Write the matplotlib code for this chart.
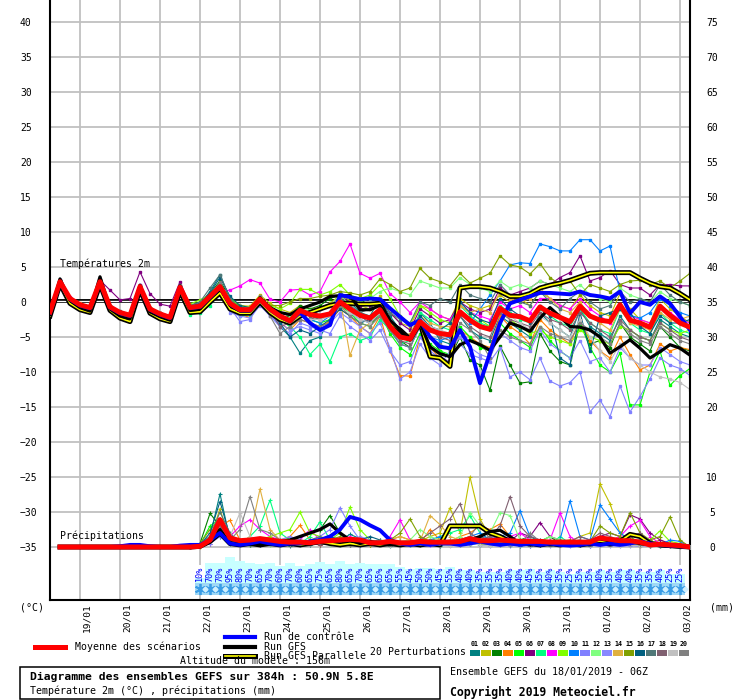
import numpy as np
import matplotlib
matplotlib.use("Agg")
import matplotlib.pyplot as plt
from matplotlib.transforms import ScaledTranslation
from matplotlib.patches import Rectangle

plt.rcParams['font.family'] = ['DejaVu Sans Mono', 'DejaVu Sans']

# ---------------- DATA ----------------
HOURS = np.arange(0, 385, 6)          # 18/01/2019 06Z + 0..384h
DAY_HOURS = [18, 42, 66, 90, 114, 138, 162, 186, 210, 234, 258, 282, 306, 330, 354, 378]
DAY_LABELS = ['19/01', '20/01', '21/01', '22/01', '23/01', '24/01', '25/01', '26/01',
              '27/01', '28/01', '29/01', '30/01', '31/01', '01/02', '02/02', '03/02']
LEFT_TICKS = [-35, -30, -25, -20, -15, -10, -5, 0, 5, 10, 15, 20, 25, 30, 35, 40]
RIGHT_TICKS = [0, 5, 10, 20, 25, 30, 35, 40, 45, 50, 55, 60, 65, 70, 75]

PERT_COLORS = ['#008080', '#c0c000', '#008000', '#ff8000', '#00ff00', '#800080', '#00ff80',
               '#ff00ff', '#80ff00', '#0080ff', '#8080ff', '#80ff80', '#8888ff', '#e0b040',
               '#80a000', '#006080', '#507878', '#806070', '#c0c0c0', '#808080']
PERT_NAMES = ['01', '02', '03', '04', '05', '06', '07', '08', '09', '10',
              '11', '12', '13', '14', '15', '16', '17', '18', '19', '20']

# temperature 2m (deg C), 65 steps
TEMP_MEAN = [-1.4, 2.9, 0.5, -0.4, -0.8, 2.9, -0.7, -1.5, -1.9, 2.2, -1.0, -1.7, -2.2, 2.1, -0.8,
             -0.6, 0.8, 2.2, -0.2, -1.1, -1.1, 0.4, -1.0, -2.0, -2.7,
             -1.2, -1.8, -2.0, -1.7, 0.0, -1.0, -1.9, -2.3, -1.1, -3.5,
             -5.0, -5.3, -2.8, -4.0, -4.5, -4.7, -1.4, -2.6, -3.5, -3.9,
             -0.9, -1.9, -2.1, -2.7, -0.7, -1.6, -2.2, -2.8, -0.6, -2.0,
             -2.6, -2.8, -0.4, -2.6, -3.0, -3.6, -0.6, -1.9, -3.0, -3.6]
TEMP_CTRL = [-1.5, 2.8, 0.4, -0.5, -0.9, 2.8, -0.8, -1.6, -2.0, 2.1, -1.1, -1.8, -2.3, 2.0, -0.9,
             -0.7, 0.7, 2.1, -0.3, -1.2, -1.2, 0.3, -1.1, -2.1, -2.8,
             -1.5, -3.0, -4.0, -3.3, 1.0, 0.7, 0.4, 0.5, 0.4, -0.9,
             -2.1, -3.3, -2.6, -5.0, -6.4, -6.6, -4.0, -6.4, -11.6, -7.3,
             -3.0, -0.2, 0.3, 0.8, 1.3, 1.3, 1.2, 1.1, 1.5, 1.0,
             0.8, 0.5, 1.5, -1.6, 0.0, -0.4, 0.8, -0.2, -2.1, -4.0]
TEMP_GFS = [-1.8, 3.3, 0.2, -0.8, -1.3, 3.6, -1.0, -2.0, -2.4, 2.4, -1.4, -2.1, -2.6, 2.3, -1.2,
            -1.0, 0.5, 2.0, -0.5, -1.3, -1.3, 0.6, -0.8, -1.5, -1.8,
            -1.0, -0.5, 0.0, 0.8, 0.9, 0.9, -1.1, -1.1, -0.5, -2.6,
            -4.0, -5.4, -3.0, -6.4, -7.4, -7.8, -6.1, -5.5, -6.1, -6.9,
            -5.0, -3.0, -3.5, -4.2, -2.3, -0.8, -2.1, -3.5, -3.6, -4.0,
            -5.0, -7.3, -6.4, -5.4, -6.6, -8.0, -7.1, -6.1, -6.6, -7.6]
TEMP_GFSP = [-2.0, 2.6, -0.2, -1.1, -1.5, 2.5, -1.2, -2.3, -2.8, 1.8, -1.6, -2.4, -2.8, 1.6, -1.5,
             -1.4, 0.0, 1.3, -1.0, -1.6, -1.6, 0.0, -1.5, -2.5, -3.0,
             -2.0, -1.5, -1.0, -0.5, -0.2, -0.2, -0.3, -0.3, -0.2, -3.0,
             -4.0, -5.3, -3.0, -7.8, -8.0, -9.2, 2.0, 2.2, 2.2, 2.0,
             1.5, 0.8, 0.8, 1.2, 2.0, 2.4, 2.7, 3.1, 3.6, 4.1,
             4.2, 4.2, 4.2, 4.2, 3.4, 2.7, 2.2, 2.0, 1.2, 0.3]

T01 = [-1.5, 3.2, 0.6, -0.3, -0.7, 3.0, -0.6, -1.3, -1.7, 2.4, -0.8, -1.5, -2.0, 2.2, -0.6,
       -0.3, 1.5, 3.9, 0.5, -0.8, -1.0, 0.6, -1.5, -3.5, -5.0,
       -7.3, -5.5, -5.0, -2.5, 1.5, 0.0, -1.5, -2.0, 0.5, -2.0,
       -4.0, -5.0, -1.5, -3.0, -5.5, -6.0, -2.0, -4.0, -5.0, -5.5,
       -2.0, -3.0, -4.0, -5.0, -1.5, -3.0, -4.0, -5.0, -1.0, -3.5,
       -4.5, -5.5, -2.0, -4.0, -5.0, -5.5, -2.5, -3.5, -4.5, -5.0]
T02 = [-1.2, 3.0, 0.4, -0.6, -1.0, 2.7, -0.9, -1.6, -2.0, 2.0, -1.1, -1.8, -2.3, 2.0, -1.0,
       -0.8, 0.5, 2.8, 0.2, -0.5, -0.6, 1.0, -0.2, -1.0, -1.5,
       -0.5, -1.0, -0.8, -0.2, 1.0, 0.2, -0.5, -1.0, 0.8, -1.5,
       -3.0, -3.5, -0.5, -1.0, -2.0, -2.5, 0.5, -0.5, -1.0, -0.5,
       1.0, 0.0, 0.5, -0.5, 1.5, 0.5, -0.5, -1.0, 1.0, -0.5,
       -1.5, -2.0, 1.2, -1.0, -2.5, -3.0, 0.5, -1.0, -2.0, -3.0]
T03 = [-1.6, 2.7, 0.3, -0.5, -0.9, 2.8, -0.8, -1.7, -2.1, 2.1, -1.2, -1.9, -2.4, 1.9, -0.5,
       0.0, 1.2, 3.0, 0.6, -0.6, -1.3, 0.2, -1.4, -2.4, -2.0,
       -0.5, -1.0, -0.5, 0.5, 1.0, 0.7, -0.3, 0.8, 0.0, -2.8,
       -5.5, -6.5, -3.0, -5.0, -7.0, -8.0, -5.0, -8.3, -9.0, -12.6,
       -6.3, -9.0, -11.6, -11.4, -4.5, -7.0, -8.5, -9.0, -3.0, -6.0,
       -5.5, -6.5, -3.0, -5.0, -6.0, -7.0, -3.5, -5.0, -6.5, -7.0]
T04 = [-1.3, 2.8, 0.5, -0.2, -0.6, 2.9, -0.5, -1.4, -1.8, 2.3, -0.9, -1.6, -2.1, 2.2, -0.7,
       -0.5, 0.7, 2.5, -0.5, -1.8, -2.2, 0.0, -1.5, -3.0, -4.0,
       -2.5, -3.0, -3.5, -2.8, -1.0, -2.0, -3.5, -4.5, -2.0, -7.0,
       -10.5, -10.6, -5.0, -6.5, -8.0, -8.5, -4.0, -5.0, -6.0, -6.5,
       -2.0, -3.5, -4.5, -6.0, -2.5, -4.0, -5.0, -6.0, -2.5, -5.5,
       -7.0, -8.0, -5.0, -7.5, -9.7, -9.0, -6.0, -7.0, -6.5, -6.8]
T05 = [-1.4, 3.0, 0.6, -0.4, -0.7, 3.1, -0.6, -1.6, -2.0, 2.2, -1.0, -1.7, -2.3, 2.0, -0.7,
       -0.7, 0.5, 2.0, -0.5, -1.5, -1.3, 0.3, -1.2, -2.5, -3.5,
       -2.0, -2.5, -3.0, -2.5, -0.5, -1.5, -3.0, -3.5, -1.5, -4.5,
       -6.5, -7.5, -4.5, -6.0, -7.0, -7.5, -3.5, -5.0, -6.5, -7.0,
       -3.0, -4.5, -5.5, -6.5, -3.5, -5.5, -7.0, -8.0, -3.0, -6.5,
       -9.0, -10.0, -7.3, -14.7, -14.7, -10.0, -7.0, -11.9, -10.5, -9.5]
T06 = [-1.6, 2.6, 0.3, -0.6, -0.9, 3.1, 1.7, 0.3, 0.5, 4.3, 1.2, -0.3, -0.6, 2.9, -0.5,
       -0.3, 0.9, 2.0, 0.0, -1.0, -1.2, 0.5, -0.8, -1.5, -2.0,
       -1.0, -1.5, -1.0, -0.5, 0.8, 0.0, -0.5, -0.5, 0.2, -1.5,
       -3.0, -4.0, -1.0, -2.0, -3.0, -2.5, 0.0, -1.0, -1.5, -1.0,
       2.0, 1.0, 1.5, 2.0, 3.0, 2.5, 3.5, 4.2, 6.6, 3.0,
       3.5, 4.5, 2.5, 2.0, 2.0, 1.0, 2.5, 2.5, 2.3, 2.3]
T07 = [-1.5, 2.8, 0.4, -0.5, -0.8, 2.7, -0.8, -1.6, -2.1, 2.0, -1.2, -2.0, -2.6, 1.6, -1.8,
       -1.5, -0.5, 1.3, -1.0, -2.0, -1.8, 0.0, -1.5, -2.5, -3.5,
       -5.0, -7.5, -6.0, -8.5, -5.0, -4.5, -5.5, -5.0, -2.5, -4.0,
       -6.0, -5.5, -1.5, -2.5, -3.5, -4.0, -0.5, -2.0, -3.0, -3.5,
       -0.5, -1.5, -2.5, -3.0, -1.0, -2.0, -3.0, -3.5, -1.0, -3.0,
       -4.0, -4.5, -1.0, -3.0, -4.0, -4.5, -1.5, -3.0, -4.0, -4.5]
T08 = [-1.3, 3.1, 0.7, -0.3, -0.6, 3.0, -0.5, -1.4, -1.8, 2.4, -0.9, -1.6, -2.1, 2.3, -0.5,
       -0.2, 1.0, 1.5, 1.7, 2.3, 3.2, 2.7, 0.4, 0.0, 1.7,
       1.8, 1.0, 1.5, 4.3, 5.8, 8.3, 4.1, 3.4, 4.1, 1.2,
       0.0, -1.5, 0.0, -1.0, -2.0, -2.5, -0.5, -1.5, -2.0, -2.5,
       0.0, -1.0, -0.5, -1.5, 0.5, 0.5, -0.5, -1.0, 0.5, -1.0,
       -2.0, -3.0, -0.5, -2.0, -2.5, -3.0, -0.5, -1.5, -2.5, -3.0]
T09 = [-1.4, 2.9, 0.5, -0.4, -0.8, 2.9, -0.7, -1.5, -1.9, 2.2, -1.0, -1.7, -2.2, 2.0, -0.3,
       0.3, 1.0, 2.5, 0.5, -0.5, -0.8, 0.5, -0.5, -1.0, -0.2,
       1.8, 1.8, 1.0, 1.5, 2.5, 1.0, 0.5, 1.0, 2.5, 0.5,
       -2.0, -3.0, -0.5, -1.5, -2.5, -3.0, -0.5, -1.5, -2.5, -3.5,
       -1.0, -2.5, -3.5, -4.5, -4.0, -5.0, -5.5, -6.0, -4.0, -5.0,
       -5.5, -6.0, -3.5, -4.0, -5.0, -5.5, -3.0, -4.0, -4.5, -4.0]
T10 = [-1.5, 2.8, 0.4, -0.5, -0.9, 2.8, -0.8, -1.6, -2.0, 2.1, -1.1, -1.8, -2.3, 2.0, -0.9,
       -0.6, 0.8, 2.4, 0.0, -0.8, -1.0, 0.3, -1.2, -2.3, -3.0,
       -2.0, -2.5, -3.0, -2.0, 0.5, -1.5, -2.5, -3.0, -1.5, -4.0,
       -6.0, -6.5, -3.5, -5.0, -5.5, -5.0, -1.5, -3.0, -1.0, 1.0,
       3.0, 5.3, 5.6, 5.5, 8.3, 7.9, 7.3, 7.3, 8.9, 8.9,
       7.3, 8.0, 1.5, -1.9, -2.3, -1.5, 0.5, -0.5, -1.5, -2.0]
T11 = [-1.3, 2.7, 0.3, -0.6, -1.0, 2.6, -1.0, -1.8, -2.2, 1.9, -1.3, -2.0, -2.5, 1.8, -1.1,
       -1.0, 0.2, 1.8, -0.8, -2.8, -2.5, 0.0, -2.0, -3.5, -4.5,
       -3.0, -3.5, -4.0, -4.5, -2.0, -3.5, -4.5, -5.5, -4.0, -7.0,
       -9.0, -8.5, -5.0, -7.0, -8.0, -8.5, -6.0, -7.5, -8.0, -8.5,
       -6.5, -10.7, -10.0, -11.1, -8.0, -11.3, -12.0, -11.5, -10.0, -15.7,
       -14.0, -16.4, -12.0, -15.7, -13.5, -11.0, -8.0, -9.0, -9.5, -10.5]
T12 = [-1.4, 3.0, 0.6, -0.3, -0.7, 3.0, -0.6, -1.4, -1.8, 2.3, -0.9, -1.6, -2.1, 2.1, -0.8,
       -0.4, 0.7, 2.3, -0.1, -1.0, -0.9, 0.6, -0.6, -1.5, -2.0,
       -1.0, -1.2, -1.0, -0.5, 1.0, -0.5, 0.0, 0.5, 1.5, 2.0,
       1.5, 1.0, 3.0, 2.5, 2.0, 2.0, 3.5, 2.5, 2.0, 1.5,
       3.0, 2.0, 2.5, 2.0, 3.0, 2.5, 2.0, 1.5, 2.5, 1.0,
       0.5, 0.0, 2.0, 1.0, 0.5, 0.0, 1.5, 0.5, 0.0, -0.5]
T13 = [-1.5, 2.9, 0.5, -0.4, -0.8, 2.9, -0.7, -1.6, -2.0, 2.1, -1.1, -1.8, -2.3, 2.0, -1.2,
       -1.0, 0.3, 1.5, -1.5, -2.0, -2.3, -0.5, -2.0, -3.0, -4.0,
       -3.5, -4.0, -4.5, -3.0, -1.5, -2.5, -3.5, -4.5, -3.0, -6.5,
       -11.0, -10.0, -6.0, -8.0, -9.0, -7.0, -5.0, -6.5, -7.5, -8.0,
       -4.5, -5.5, -6.5, -7.0, -4.0, -6.0, -7.0, -8.0, -5.5, -8.5,
       -8.0, -10.0, -6.5, -8.0, -9.0, -9.0, -6.5, -7.5, -8.5, -9.0]
T14 = [-1.4, 2.9, 0.5, -0.4, -0.8, 2.9, -0.7, -1.5, -1.9, 2.2, -1.0, -1.7, -2.2, 2.1, -0.8,
       -0.6, 0.7, 2.2, -0.5, -1.5, -1.5, 0.0, -1.0, -2.0, -2.5,
       -1.5, -2.0, -2.5, -2.0, 0.5, -7.6, -4.0, -3.0, -1.0, -3.5,
       -5.0, -4.5, -2.0, -3.0, -3.5, -3.5, -0.5, -1.5, -1.0, -1.5,
       1.5, 0.5, 0.0, 0.5, 2.0, 0.5, -1.0, -1.5, 0.0, -2.0,
       -3.0, -4.0, -1.0, -3.0, -3.5, -4.0, -1.5, -2.5, -2.5, -2.0]
T15 = [-1.3, 3.0, 0.5, -0.4, -0.7, 2.9, -0.6, -1.5, -1.8, 2.2, -0.9, -1.6, -2.1, 2.1, -0.7,
       -0.5, 0.7, 2.2, -0.2, -1.0, -1.0, 0.3, -0.5, -0.5, 0.0,
       0.5, 0.5, 0.8, 1.0, 1.5, 1.3, 1.0, 1.5, 3.3, 2.5,
       1.5, 2.0, 4.8, 3.4, 2.9, 2.3, 4.1, 2.7, 3.4, 4.1,
       6.6, 5.3, 5.0, 4.0, 5.5, 3.5, 2.5, 3.0, 1.0, 2.5,
       2.0, 1.5, 2.5, 3.0, 3.1, 2.5, 3.0, 2.0, 3.0, 4.1]
T16 = [-1.3, 2.8, 0.4, -0.5, -0.9, 2.8, -0.8, -1.6, -2.0, 2.0, -1.1, -1.8, -2.3, 2.2, -0.6,
       -0.2, 1.3, 3.5, 0.8, -0.5, -0.8, 0.5, -1.5, -3.0, -5.0,
       -4.0, -4.5, -3.5, -2.5, -1.0, -2.0, -3.0, -2.5, -1.0, -3.0,
       -4.5, -5.0, -2.0, -3.5, -4.0, -3.0, 0.0, -1.5, -2.5, -3.0,
       0.5, -1.0, -2.0, -3.0, -0.5, -2.0, -8.0, -9.0, -1.5, -7.0,
       -2.0, -1.5, -1.0, -1.5, -3.5, -4.5, -2.0, -3.0, -3.0, -2.5]
T17 = [-1.5, 3.1, 0.6, -0.3, -0.7, 3.1, -0.6, -1.4, -1.8, 2.3, -0.9, -1.6, -2.1, 2.3, -0.5,
       0.0, 2.0, 3.9, 0.5, -1.0, -1.2, 0.5, -1.0, -2.0, -2.5,
       -1.5, -2.0, -2.5, -1.5, 0.5, -0.5, -1.5, -1.0, 0.5, -1.5,
       -2.5, -3.0, 0.0, -0.5, 0.5, 0.0, 2.5, 1.0, 0.5, 0.0,
       2.5, 1.0, 0.0, -0.5, 1.5, 0.0, -1.0, 0.5, 1.5, 0.0,
       -1.0, -0.5, 1.5, 0.0, 0.5, 0.0, 2.5, 1.0, 0.0, -0.5]
T18 = [-1.4, 3.0, 0.4, -0.5, -0.8, 3.0, -0.8, -1.5, -2.0, 2.1, -1.0, -1.8, -2.2, 2.2, -0.8,
       -0.5, 0.8, 2.5, 0.0, -1.0, -0.8, 0.5, -1.2, -3.5, -3.0,
       -2.0, -2.5, -2.0, -1.5, 0.5, -1.0, -2.0, -3.0, -2.0, -4.0,
       -5.5, -6.0, -3.0, -4.0, -5.0, -5.5, -2.0, -3.5, -4.5, -5.0,
       -1.5, -2.5, -3.0, -3.5, -1.5, -2.5, -3.0, -4.0, -1.5, -3.0,
       -4.0, -5.0, -2.5, -4.0, -5.0, -5.5, -3.0, -4.0, -5.0, -5.5]
T19 = [-1.4, 2.9, 0.5, -0.4, -0.9, 2.8, -0.7, -1.5, -2.0, 2.2, -1.0, -1.7, -2.3, 2.0, -0.8,
       -0.5, 0.8, 2.0, -0.3, -1.2, -1.2, 0.3, -1.2, -2.5, -3.0,
       -2.0, -2.5, -2.5, -2.0, 0.0, -1.5, -2.5, -3.0, -1.5, -3.5,
       -5.0, -5.5, -2.5, -3.5, -4.0, -4.5, -1.5, -2.5, -3.5, -4.0,
       -1.0, -2.0, -3.0, -4.0, -2.0, -3.0, -4.0, -5.0, -2.5, -5.0,
       -7.0, -8.5, -6.0, -8.0, -9.0, -10.0, -10.7, -11.0, -11.5, -12.5]
T20 = [-1.5, 3.0, 0.4, -0.5, -0.9, 3.0, -0.8, -1.6, -2.0, 2.3, -1.1, -1.8, -2.3, 2.5, -0.7,
       -0.5, 1.0, 2.8, -0.3, -1.5, -1.5, 0.8, -2.0, -4.5, -3.5,
       -2.5, -3.0, -3.5, -3.0, -0.5, -2.0, -3.0, -3.5, -2.0, -4.0,
       -6.0, -6.5, -3.5, -5.0, -6.0, -7.0, -3.0, -4.0, -5.5, -8.0,
       -4.0, -5.0, -5.5, -6.0, -3.5, -4.5, -5.0, -5.5, -3.0, -4.0,
       -5.0, -6.0, -3.0, -4.5, -5.5, -6.0, -3.5, -4.5, -5.5, -6.0]

# 6h precipitation (mm); mean / control / GFS runs from +6h, members from +84h
PREC_MEAN = [0.0, 0.0, 0.0, 0.0, 0.0, 0.0, 0.0, 0.0, 0.0, 0.0, 0.0, 0.0, 0.0, 0.0,
             0.1, 1.0, 3.9, 1.3, 0.9, 1.0, 1.2, 1.0, 0.8, 0.7,
             0.7, 0.6, 0.8, 0.9, 1.0, 1.1, 1.0, 0.6, 0.6, 0.8,
             0.6, 0.6, 0.8, 0.7, 0.7, 0.7, 0.8, 1.2, 0.9, 0.9,
             1.0, 0.9, 0.8, 0.8, 0.8, 0.7, 0.7, 0.7, 0.7, 0.7,
             1.3, 1.1, 0.9, 0.9, 0.7, 0.3, 0.4, 0.3, 0.2, 0.0]
PREC_CTRL = [0.0, 0.0, 0.0, 0.0, 0.0, 0.0, 0.1, 0.3, 0.3, 0.1, 0.0, 0.0, 0.2, 0.3,
             0.3, 1.0, 2.0, 0.5, 0.3, 0.5, 0.8, 0.5, 0.3, 0.5,
             0.5, 0.8, 1.0, 1.5, 2.5, 4.3, 3.9, 3.1, 2.4, 1.0,
             0.5, 0.3, 0.5, 0.3, 0.5, 0.5, 0.3, 0.5, 0.8, 0.5,
             0.3, 0.5, 0.3, 0.5, 0.3, 0.5, 0.3, 0.2, 0.3, 0.5,
             0.3, 0.5, 0.3, 0.5, 0.8, 0.5, 0.3, 0.2, 0.1, 0.0]
PREC_GFS = [0.0, 0.0, 0.0, 0.0, 0.0, 0.0, 0.0, 0.0, 0.0, 0.0, 0.0, 0.0, 0.0, 0.0,
            0.1, 1.0, 2.5, 0.5, 0.3, 0.5, 0.3, 0.5, 0.8, 1.0,
            1.5, 2.0, 2.5, 3.3, 2.0, 1.0, 0.5, 0.8, 0.5, 0.3,
            0.5, 0.3, 0.5, 0.8, 0.5, 0.5, 0.8, 1.0, 1.5, 2.2,
            2.4, 1.5, 0.5, 0.3, 0.5, 0.3, 0.5, 0.3, 0.5, 0.3,
            0.5, 0.3, 0.5, 0.8, 0.5, 0.3, 0.2, 0.1, 0.0, 0.0]
PREC_GFSP = [0.0, 0.0, 0.0, 0.0, 0.0, 0.0, 0.0, 0.0, 0.0, 0.0, 0.0, 0.0, 0.0, 0.0,
             0.1, 0.8, 2.0, 0.5, 0.3, 0.5, 0.3, 0.5, 0.3, 0.5,
             0.3, 0.5, 0.8, 0.5, 0.3, 0.5, 0.3, 0.5, 0.3, 0.5,
             0.3, 0.5, 0.3, 0.5, 0.3, 3.0, 3.0, 3.0, 3.0, 2.0,
             1.5, 0.8, 0.5, 0.5, 0.3, 0.5, 0.3, 0.5, 0.3, 0.5,
             0.8, 0.5, 0.8, 1.8, 1.5, 0.5, 0.3, 0.2, 0.1, 0.0]

R01 = [0.0,
       0.3, 1.5, 7.6, 1.0, 0.5, 0.8, 1.0, 0.5, 0.3, 0.2,
       0.5, 0.3, 0.8, 1.5, 1.0, 1.8, 1.2, 0.5, 0.3, 0.2,
       0.5, 0.3, 0.5, 0.4, 0.2, 0.5, 1.2, 0.5, 0.3, 0.5,
       0.8, 0.3, 0.2, 0.2, 0.8, 0.5, 0.3, 0.5, 0.3, 0.2,
       0.5, 1.0, 0.5, 0.3, 0.2, 0.3, 0.2, 0.1, 0.0, 0.0]
R02 = [0.0,
       0.0, 1.0, 5.5, 0.5, 0.3, 0.5, 0.8, 0.3, 0.5, 1.5,
       0.8, 0.5, 0.3, 0.5, 0.8, 1.0, 0.5, 0.3, 0.5, 1.0,
       0.5, 1.0, 0.8, 1.5, 2.0, 5.6, 2.0, 10.0, 4.0, 1.5,
       1.0, 0.5, 0.8, 0.5, 0.3, 0.5, 1.0, 0.8, 1.5, 2.0,
       9.0, 6.2, 2.0, 1.0, 0.5, 0.5, 1.0, 0.5, 0.3, 0.0]
R03 = [0.0,
       0.5, 4.8, 3.0, 1.5, 0.5, 0.3, 0.5, 0.8, 0.5, 1.0,
       1.5, 2.0, 2.5, 4.5, 2.0, 1.0, 0.5, 0.3, 0.5, 0.3,
       0.5, 0.3, 0.5, 1.0, 0.5, 0.3, 0.5, 0.5, 1.0, 1.5,
       0.5, 0.3, 1.0, 1.5, 0.8, 1.5, 0.5, 0.3, 0.5, 1.0,
       0.8, 0.5, 0.3, 0.5, 0.3, 0.2, 0.3, 0.2, 0.0, 0.0]
R04 = [0.0,
       0.2, 1.0, 3.0, 3.8, 1.0, 0.5, 0.3, 0.5, 1.0, 1.5,
       3.1, 1.0, 0.5, 0.8, 0.5, 0.3, 0.5, 0.3, 0.5, 1.0,
       1.5, 1.0, 0.5, 2.5, 1.0, 0.8, 1.5, 2.0, 3.0, 2.5,
       3.3, 1.5, 0.5, 0.3, 0.5, 0.3, 0.5, 0.8, 0.5, 0.3,
       0.5, 1.0, 1.5, 0.8, 0.5, 0.3, 0.5, 0.2, 0.1, 0.0]
R05 = [0.0,
       0.3, 3.0, 4.0, 1.0, 0.5, 0.3, 0.5, 0.8, 1.0, 0.5,
       0.3, 0.5, 1.0, 0.5, 0.3, 0.5, 1.5, 0.5, 0.3, 0.5,
       0.3, 0.5, 1.0, 0.5, 0.3, 0.5, 1.0, 1.5, 0.5, 0.3,
       0.5, 0.3, 0.5, 1.0, 0.5, 0.3, 0.5, 0.3, 0.5, 0.8,
       1.0, 0.5, 0.3, 1.5, 0.5, 0.3, 0.5, 0.3, 0.5, 0.0]
R06 = [0.0,
       0.2, 0.5, 2.0, 1.0, 0.5, 0.5, 0.3, 0.5, 0.3, 0.5,
       0.3, 0.5, 0.3, 0.5, 1.0, 0.5, 0.3, 0.5, 0.3, 0.5,
       0.3, 0.5, 0.3, 0.5, 0.3, 0.5, 0.3, 0.5, 0.8, 1.5,
       1.0, 0.8, 2.0, 1.5, 3.5, 1.5, 1.0, 0.5, 0.8, 1.0,
       1.5, 2.0, 1.5, 4.6, 4.0, 2.0, 1.0, 0.5, 0.3, 0.0]
R07 = [0.0,
       0.3, 1.5, 2.5, 1.0, 0.5, 1.5, 3.0, 6.7, 2.0, 1.0,
       0.5, 1.5, 3.6, 1.0, 0.5, 0.3, 0.5, 0.8, 0.5, 0.3,
       0.5, 0.3, 0.5, 0.8, 1.5, 2.0, 2.5, 4.5, 2.0, 1.0,
       0.5, 0.8, 0.5, 1.0, 0.5, 0.3, 1.5, 0.5, 0.3, 0.5,
       0.5, 0.3, 0.5, 0.3, 0.5, 0.3, 0.2, 0.3, 0.1, 0.0]
R08 = [0.0,
       0.2, 1.0, 2.5, 1.5, 3.0, 3.9, 2.5, 1.5, 1.0, 0.8,
       1.0, 2.5, 1.0, 0.5, 0.8, 1.5, 1.0, 0.5, 0.3, 1.5,
       3.9, 1.0, 0.5, 0.3, 0.5, 0.3, 0.5, 0.8, 1.5, 1.0,
       0.5, 1.5, 2.0, 1.0, 0.5, 1.0, 4.9, 1.5, 0.5, 0.3,
       0.5, 0.8, 1.5, 3.0, 3.8, 1.5, 0.5, 0.3, 0.2, 0.0]
R09 = [0.0,
       0.3, 1.5, 3.5, 1.0, 0.5, 0.8, 1.0, 1.5, 2.0, 2.5,
       5.0, 2.0, 1.5, 1.0, 2.0, 5.7, 2.5, 1.0, 0.5, 0.3,
       0.5, 0.3, 0.5, 0.5, 0.3, 0.5, 0.8, 1.0, 0.5, 0.3,
       0.5, 0.3, 0.5, 0.8, 0.5, 0.3, 0.5, 0.3, 0.5, 0.3,
       0.5, 0.3, 0.5, 0.8, 1.0, 1.0, 2.3, 0.8, 0.5, 0.0]
R10 = [0.0,
       0.2, 0.8, 1.5, 0.5, 0.3, 0.5, 0.3, 0.5, 0.3, 0.5,
       0.3, 0.5, 0.8, 0.5, 0.3, 0.5, 0.3, 0.5, 0.3, 0.5,
       0.3, 0.5, 0.8, 1.0, 1.5, 0.5, 1.0, 1.5, 2.0, 1.0,
       1.5, 2.0, 5.2, 1.5, 1.0, 0.8, 1.0, 6.6, 1.5, 1.0,
       6.0, 4.0, 2.0, 1.0, 0.5, 0.5, 0.3, 1.0, 0.8, 0.0]
R11 = [0.0,
       0.2, 0.5, 1.5, 1.0, 0.5, 0.3, 0.5, 0.8, 1.0, 1.5,
       1.0, 0.8, 1.5, 2.5, 5.6, 3.0, 1.0, 0.5, 0.3, 0.5,
       0.3, 0.5, 0.3, 0.5, 0.3, 0.5, 0.3, 0.5, 0.3, 0.2,
       0.3, 0.2, 0.3, 0.2, 0.3, 0.2, 0.3, 0.2, 0.3, 0.2,
       0.3, 0.2, 0.1, 0.2, 0.1, 0.1, 0.2, 0.1, 0.1, 0.0]
R12 = [0.0,
       0.3, 1.0, 2.0, 0.8, 0.5, 0.3, 0.5, 0.3, 0.5, 0.8,
       0.5, 1.0, 0.5, 0.3, 0.5, 0.8, 1.0, 0.5, 0.3, 0.5,
       0.8, 1.0, 2.5, 1.5, 1.0, 0.8, 1.5, 4.9, 3.0, 2.0,
       4.9, 4.5, 1.0, 0.5, 0.8, 1.5, 1.0, 0.5, 0.8, 0.5,
       1.0, 0.5, 0.8, 0.5, 0.3, 0.5, 0.3, 0.2, 0.1, 0.0]
R13 = [0.0,
       0.2, 0.8, 2.0, 1.0, 0.3, 0.5, 0.8, 0.5, 0.3, 0.5,
       1.0, 0.5, 0.8, 1.5, 1.0, 0.5, 1.5, 1.0, 0.5, 0.3,
       0.5, 0.3, 0.5, 0.3, 0.5, 0.3, 0.5, 0.8, 0.5, 1.5,
       1.0, 0.5, 0.3, 0.5, 0.8, 0.5, 0.3, 0.5, 0.3, 0.2,
       0.3, 0.5, 0.8, 0.5, 0.3, 0.2, 0.3, 0.5, 0.2, 0.0]
R14 = [0.0,
       0.3, 1.0, 2.5, 1.0, 0.5, 1.5, 8.3, 2.5, 1.0, 0.8,
       0.5, 1.0, 0.5, 0.8, 0.5, 0.3, 0.5, 0.8, 0.5, 1.0,
       1.5, 1.0, 0.8, 4.5, 3.2, 1.5, 1.0, 0.5, 0.8, 1.0,
       0.5, 0.8, 0.5, 0.3, 0.5, 0.3, 0.5, 0.8, 0.5, 0.3,
       0.5, 0.3, 0.5, 0.3, 0.2, 0.3, 0.2, 0.1, 0.0, 0.0]
R15 = [0.0,
       0.5, 2.5, 4.0, 1.5, 0.5, 0.3, 0.5, 1.0, 0.5, 0.3,
       0.5, 0.8, 0.5, 1.0, 1.5, 1.0, 0.5, 0.3, 0.5, 1.0,
       2.0, 4.0, 1.5, 0.8, 0.5, 0.3, 0.5, 0.8, 0.5, 0.3,
       0.5, 0.8, 1.0, 0.5, 0.3, 0.5, 0.8, 1.0, 0.5, 0.8,
       3.0, 2.0, 1.5, 4.9, 2.0, 1.0, 1.5, 4.3, 1.0, 0.0]
R16 = [0.0,
       0.3, 2.0, 6.5, 1.5, 0.5, 0.5, 1.0, 0.5, 0.3, 0.5,
       0.8, 0.5, 1.0, 1.5, 1.0, 0.5, 1.0, 1.5, 1.0, 0.5,
       0.3, 0.5, 0.3, 0.5, 0.8, 0.5, 0.3, 0.5, 0.8, 0.5,
       0.3, 0.5, 0.3, 0.5, 0.3, 0.5, 0.8, 0.5, 0.3, 0.5,
       1.5, 1.0, 0.5, 0.8, 0.5, 0.3, 0.2, 0.3, 0.1, 0.0]
R17 = [0.0,
       0.5, 1.5, 5.0, 2.0, 0.5, 0.3, 0.5, 0.8, 0.5, 0.3,
       0.5, 1.0, 1.5, 0.8, 0.5, 0.3, 0.5, 0.8, 1.0, 0.5,
       0.3, 0.5, 0.8, 0.5, 0.3, 0.5, 0.8, 1.0, 1.5, 1.0,
       0.5, 0.3, 0.5, 0.8, 0.5, 0.3, 0.5, 0.8, 1.0, 0.5,
       0.3, 0.5, 1.0, 0.5, 0.3, 0.2, 0.3, 0.2, 0.1, 0.0]
R18 = [0.0,
       0.3, 1.0, 3.0, 1.0, 0.5, 0.8, 0.5, 1.0, 0.5, 0.3,
       0.5, 0.8, 0.5, 1.0, 0.5, 0.3, 0.5, 0.8, 0.5, 0.3,
       0.5, 0.8, 1.0, 2.0, 3.0, 4.0, 6.2, 2.0, 1.0, 1.5,
       3.0, 7.2, 3.0, 1.5, 1.0, 0.8, 0.5, 0.8, 1.5, 1.0,
       2.0, 1.5, 1.0, 1.5, 2.0, 0.8, 0.5, 0.3, 0.2, 0.0]
R19 = [0.0,
       0.2, 0.8, 2.0, 1.5, 4.9, 1.5, 0.8, 0.5, 0.3, 0.5,
       0.3, 0.5, 0.8, 0.5, 0.3, 0.5, 0.8, 0.5, 0.3, 0.2,
       0.3, 0.5, 0.3, 0.5, 0.3, 0.2, 0.3, 0.5, 0.3, 0.2,
       0.3, 0.5, 0.3, 1.0, 0.5, 0.3, 0.2, 0.3, 0.5, 0.3,
       0.2, 0.3, 0.2, 0.3, 0.2, 0.1, 0.2, 0.1, 0.0, 0.0]
R20 = [0.0,
       0.3, 1.0, 2.0, 1.0, 2.5, 7.2, 2.5, 2.0, 1.0, 0.5,
       0.8, 0.5, 1.0, 0.8, 0.5, 0.3, 0.5, 0.8, 0.5, 1.0,
       0.8, 0.5, 0.3, 0.5, 0.8, 1.0, 0.8, 1.5, 3.5, 1.0,
       0.5, 0.3, 0.5, 2.0, 0.8, 0.5, 0.3, 0.5, 0.8, 0.5,
       0.3, 0.5, 0.8, 0.5, 0.3, 0.2, 0.3, 0.2, 0.1, 0.0]

# precipitation probability (%) for each 6h step from +90h to +378h
PROB = [10, 70, 70, 95, 80, 70, 65, 70, 60, 70,
        60, 65, 75, 65, 80, 65, 70, 65, 65, 65,
        55, 45, 50, 50, 45, 55, 40, 40, 35, 35,
        35, 40, 40, 45, 35, 40, 35, 25, 35, 35,
        40, 35, 40, 40, 35, 35, 40, 25, 25]

TEMPS = [T01, T02, T03, T04, T05, T06, T07, T08, T09, T10,
         T11, T12, T13, T14, T15, T16, T17, T18, T19, T20]
PRECS = [R01, R02, R03, R04, R05, R06, R07, R08, R09, R10,
         R11, R12, R13, R14, R15, R16, R17, R18, R19, R20]

# ---------------- FIGURE ----------------
PX = 1 / 100.0
fig = plt.figure(figsize=(7.4, 7.0), dpi=100, facecolor='white')
ax = fig.add_axes([50 / 740, 100 / 700, 640 / 740, 600 / 700])
Y_LO, Y_HI = -298 / 7, 302 / 7
ax.set_xlim(0, 384)
ax.set_ylim(Y_LO, Y_HI)
ax.set_yticks(LEFT_TICKS)
ax.set_xticks(DAY_HOURS)
ax.set_xticklabels(DAY_LABELS, rotation=90, fontsize=6.8)
ax.grid(True, color='#c0c0c0', lw=1.3)
ax.set_axisbelow(True)
ax.tick_params(axis='both', length=0)
ax.tick_params(axis='y', pad=21.6, labelsize=7)
ax.tick_params(axis='x', pad=2.5)
for t in ax.get_yticklabels():
    t.set_horizontalalignment('left')
off = ScaledTranslation(7 * PX, 0, fig.dpi_scale_trans)
for t in ax.get_xticklabels():
    t.set_transform(t.get_transform() + off)
for s in ['left', 'right', 'bottom']:
    ax.spines[s].set_linewidth(1.5)
ax.spines['top'].set_visible(False)

# 0 deg double line
ax.axhline(0.15, color='black', lw=2.8, zorder=1.5)
ax.axhline(0.15, color='white', lw=1.0, zorder=1.6)

# temperature members
hrs = HOURS
for vals, col in zip(TEMPS, PERT_COLORS):
    ax.plot(hrs, vals, color=col, lw=0.8, marker='s', ms=1.8, zorder=2)
ax.plot(hrs, TEMP_GFSP, color='black', lw=3.6, zorder=3)
ax.plot(hrs, TEMP_GFSP, color='#ffff00', lw=1.2, zorder=3.1)
ax.plot(hrs, TEMP_GFS, color='black', lw=2.3, zorder=4)
ax.plot(hrs, TEMP_CTRL, color='#0000ff', lw=2.8, zorder=5)
ax.plot(hrs, TEMP_MEAN, color='#ff0000', lw=3.6, zorder=6)

# probability strip
PROB_HOURS = HOURS[15:64]
ax.add_patch(Rectangle((87, -40.14), 294, 2.57, facecolor='white', edgecolor='none', zorder=6.5))
ax.bar(PROB_HOURS, [(3 + 0.24 * p) / 7 for p in PROB], width=6, bottom=-40.14,
       color='#c8ffff', zorder=7, linewidth=0)
ax.fill_between([87, 381], -41.86, -40.14, color='#9fd8f6', zorder=7.2, linewidth=0)
ax.plot(PROB_HOURS, [-41.0] * len(PROB_HOURS), ls='none', marker=(6, 2, 0), ms=8,
        mew=1.3, color='#3a9de6', zorder=7.3)
ax.plot(PROB_HOURS + 3, [-41.0] * len(PROB_HOURS), ls='none', marker='D', ms=2.5,
        color='#d0f0ff', zorder=7.35)
for h, p in zip(PROB_HOURS, PROB):
    ax.text(h, -39.95, f'{p}%', rotation=90, ha='center', va='bottom', color='#0000ff',
            fontsize=6.1, zorder=8)

# precipitation on the right-hand scale
ax2 = ax.twinx()
ax2.set_ylim(Y_LO + 35, Y_HI + 35)
ax2.set_yticks(RIGHT_TICKS)
ax2.tick_params(axis='y', length=0, pad=15.8, labelsize=7)
for t in ax2.get_yticklabels():
    t.set_horizontalalignment('center')
for s in ax2.spines.values():
    s.set_visible(False)
ax2.set_xlim(0, 384)

for vals, col in zip(PRECS, PERT_COLORS):
    ax2.plot(HOURS[14:], vals, color=col, lw=0.8, marker='+', ms=3.5, mew=0.8, zorder=2)
ax2.plot(HOURS[1:], PREC_GFSP, color='black', lw=3.6, zorder=3)
ax2.plot(HOURS[1:], PREC_GFSP, color='#ffff00', lw=1.2, zorder=3.1)
ax2.plot(HOURS[1:], PREC_GFS, color='black', lw=2.3, zorder=4)
ax2.plot(HOURS[1:], PREC_CTRL, color='#0000ff', lw=2.8, zorder=5)
ax2.plot(HOURS[1:], PREC_MEAN, color='#ff0000', lw=3.6, zorder=6)

# ---------------- overlay for texts / legend (pixel coordinates) ----------------
lax = fig.add_axes([0, 0, 1, 1])
lax.set_xlim(0, 740)
lax.set_ylim(700, 0)
lax.axis('off')

fs = 7.1
lax.text(60, 264, 'Températures 2m', fontsize=fs, va='center', ha='left')
lax.text(60, 536, 'Précipitations', fontsize=fs, va='center', ha='left')
lax.text(20, 607, '(°C)', fontsize=fs, va='center', ha='left')
lax.text(710, 607, '(mm)', fontsize=fs, va='center', ha='left')

lax.plot([35, 65], [647, 647], color='#ff0000', lw=3.6)
lax.text(75, 647, 'Moyenne des scénarios', fontsize=fs, va='center', ha='left')
lax.plot([225, 255], [636.5, 636.5], color='#0000ff', lw=3.0)
lax.text(264, 636.5, 'Run de contrôle', fontsize=fs, va='center', ha='left')
lax.plot([225, 255], [646.5, 646.5], color='black', lw=3.0)
lax.text(264, 646.5, 'Run GFS', fontsize=fs, va='center', ha='left')
lax.plot([225, 255], [656, 656], color='black', lw=3.6)
lax.plot([225, 255], [656, 656], color='#ffff00', lw=1.2)
lax.text(264, 656, 'Run GFS Parallele', fontsize=fs, va='center', ha='left')
lax.text(180, 660.5, 'Altitude du modèle : 156m', fontsize=fs, va='center', ha='left')

lax.text(370, 652, '20 Perturbations', fontsize=fs, va='center', ha='left')
for k, (name, col) in enumerate(zip(PERT_NAMES, PERT_COLORS)):
    lax.add_patch(Rectangle((470 + 11 * k, 650), 10, 6, facecolor=col, edgecolor='none'))
    lax.text(475 + 11 * k, 644.5, name, fontsize=4.8, fontweight='bold',
             va='center', ha='center')

lax.add_patch(Rectangle((20, 667), 420, 31.5, facecolor='none', edgecolor='black', lw=1.1))
lax.text(30, 677, 'Diagramme des ensembles GEFS sur 384h : 50.9N 5.8E', fontsize=8.2,
         fontweight='bold', va='center', ha='left')
lax.text(30, 691, 'Température 2m (°C) , précipitations (mm)', fontsize=7.2,
         va='center', ha='left')
lax.text(450, 672, 'Ensemble GEFS du 18/01/2019 - 06Z', fontsize=7.2, va='center', ha='left')
lax.text(450, 692, 'Copyright 2019 Meteociel.fr', fontsize=8.3, fontweight='bold',
         va='center', ha='left')

fig.savefig('out.png', dpi=100, facecolor='white')
